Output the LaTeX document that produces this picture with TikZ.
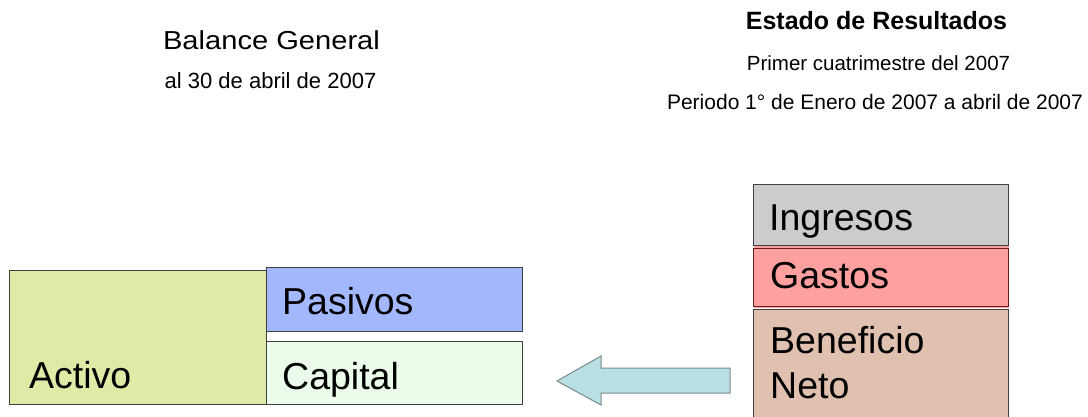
\documentclass[tikz,border=0pt]{standalone}
\usepackage{fontspec}
\setmainfont{Liberation Sans}
\usetikzlibrary{positioning}

\definecolor{bordeCaja}{HTML}{404040}
\definecolor{verdeActivo}{HTML}{DDEBA7}
\definecolor{azulPasivos}{HTML}{A3B7FD}
\definecolor{verdeCapital}{HTML}{EBFCEB}
\definecolor{grisIngresos}{HTML}{CCCCCC}
\definecolor{rojoGastos}{HTML}{FFA0A0}
\definecolor{rojoBorde}{HTML}{6B1C1C}
\definecolor{marronBeneficio}{HTML}{E0C1B0}
\definecolor{azulFlecha}{HTML}{B8E0E4}
\definecolor{bordeFlecha}{HTML}{7A8A8C}

\begin{document}
\begin{tikzpicture}[
    x=1pt, y=-1pt,
    caja/.style={draw=bordeCaja, line width=1.1pt, inner sep=0pt, anchor=north west},
    texto/.style={anchor=base west, inner sep=0pt, font=\fontsize{37.5}{45}\selectfont},
    titulo/.style={anchor=base, inner sep=0pt},
    flecha/.style={draw=bordeFlecha, fill=azulFlecha, line width=1pt, line join=miter}
]
\useasboundingbox (0,0) rectangle (1088,416);
% titulos
\node[titulo, font=\fontsize{26}{31}\selectfont] (balance) at (271.5,49) {\scalebox{1.12}[1]{Balance General}};
\node[titulo, font=\fontsize{22}{26}\selectfont] (fecha) at (270.5,88) {al 30 de abril de 2007};
\node[titulo, font=\bfseries\fontsize{25}{30}\selectfont] (estado) at (876.5,29) {Estado de Resultados};
\node[titulo, font=\fontsize{20.5}{25}\selectfont] (cuatrimestre) at (878.5,70) {Primer cuatrimestre del 2007};
\node[titulo, font=\fontsize{21}{25}\selectfont] (periodo) at (875,109) {Periodo 1° de Enero de 2007 a abril de 2007};
% balance general
\node[caja, fill=verdeActivo, minimum width=257pt, minimum height=134pt] (activo) at (9,270) {};
\node[caja, fill=azulPasivos, minimum width=256pt, minimum height=64pt] (pasivos) at (266,267) {};
\node[caja, fill=verdeCapital, minimum width=256pt, minimum height=63pt] (capital) at (266,341) {};
\node[texto] (tActivo) at (29,388) {Activo};
\node[texto] (tPasivos) at (282,314) {Pasivos};
\node[texto] (tCapital) at (282,389) {Capital};
% estado de resultados
\node[caja, fill=grisIngresos, minimum width=255pt, minimum height=61pt] (ingresos) at (753,184) {};
\node[caja, fill=marronBeneficio, minimum width=255pt, minimum height=116pt] (beneficio) at (753,308.5) {};
\node[caja, draw=none, fill=rojoGastos, minimum width=255pt, minimum height=62.3pt] (fondoGastos) at (753,245.6) {};
\node[caja, draw=rojoBorde, line width=0.9pt, fill=rojoGastos, minimum width=255pt, minimum height=58.1pt] (gastos) at (753,247.9) {};
\node[texto] (tIngresos) at (769,230) {Ingresos};
\node[texto] (tGastos) at (770,288) {Gastos};
\node[texto] (tBeneficio) at (770,353) {Beneficio};
\node[texto] (tNeto) at (770,398) {Neto};
% flecha
\draw[flecha] (557,381) -- (601,356) -- (601,368) -- (730,368) -- (730,393)
    -- (601,393) -- (601,405) -- cycle;
\end{tikzpicture}
\end{document}
